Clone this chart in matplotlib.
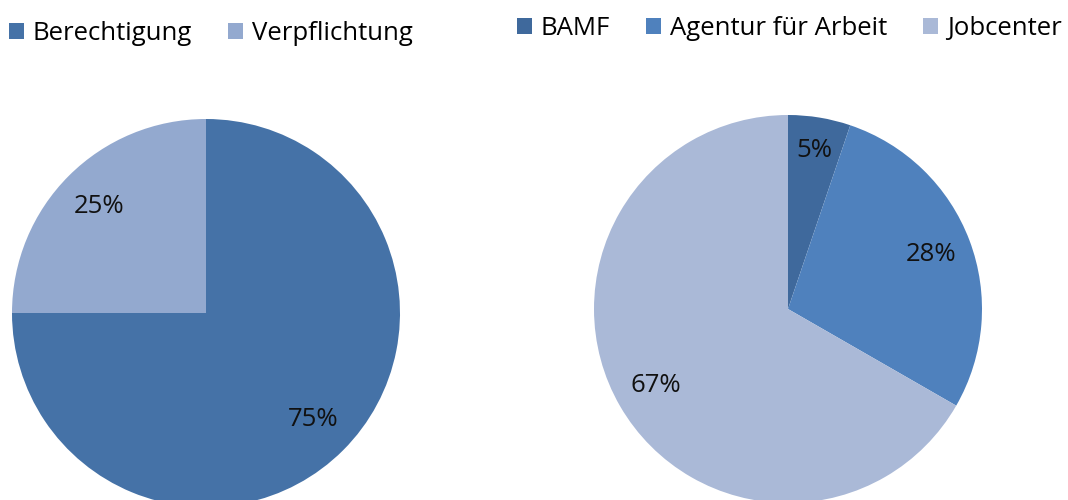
import matplotlib
matplotlib.use("Agg")
import matplotlib.pyplot as plt

plt.rcParams['font.family'] = ['Open Sans', 'DejaVu Sans']

left_labels = ["Berechtigung", "Verpflichtung"]
left_values = [75, 25]
left_colors = ["#4572A7", "#93A9CF"]

right_labels = ["BAMF", "Agentur für Arbeit", "Jobcenter"]
right_values = [5.2, 28.1, 66.7]
right_colors = ["#3F699C", "#4F81BD", "#AAB9D7"]

W, H = 1068, 500
fig = plt.figure(figsize=(W / 100, H / 100), dpi=100)

R = 194

def make_ax(cx, cy):
    return fig.add_axes([(cx - R) / W, (H - cy - R) / H, 2 * R / W, 2 * R / H])

axL = make_ax(206, 313)
axR = make_ax(788, 309)

fs = 18.5

wL, tL, aL = axL.pie(left_values, colors=left_colors, startangle=90, counterclock=False,
                     autopct='%1.0f%%', pctdistance=0.78, radius=1,
                     wedgeprops=dict(linewidth=0),
                     textprops=dict(fontsize=fs, color='#111111'))
wR, tR, aR = axR.pie(right_values, colors=right_colors, startangle=90, counterclock=False,
                     autopct='%1.0f%%', pctdistance=0.79, radius=1,
                     wedgeprops=dict(linewidth=0),
                     textprops=dict(fontsize=fs, color='#111111'))
aR[0].set_position((aR[0].get_position()[0] * 1.05, aR[0].get_position()[1] * 1.05))

for ax in (axL, axR):
    ax.set_xlim(-1, 1)
    ax.set_ylim(-1, 1)
    ax.set_aspect('equal')
    ax.axis('off')

legkw = dict(frameon=False, fontsize=fs, handlelength=0.58, handleheight=0.58,
             handletextpad=0.35, columnspacing=1.4, borderaxespad=0, borderpad=0)
fig.legend(wL, left_labels, ncol=2, loc='upper left',
           bbox_to_anchor=(9 / W, 1 - 21 / H), **legkw)
fig.legend(wR, right_labels, ncol=3, loc='upper left',
           bbox_to_anchor=(517 / W, 1 - 16 / H), **legkw)

fig.savefig("out.png", dpi=100)
